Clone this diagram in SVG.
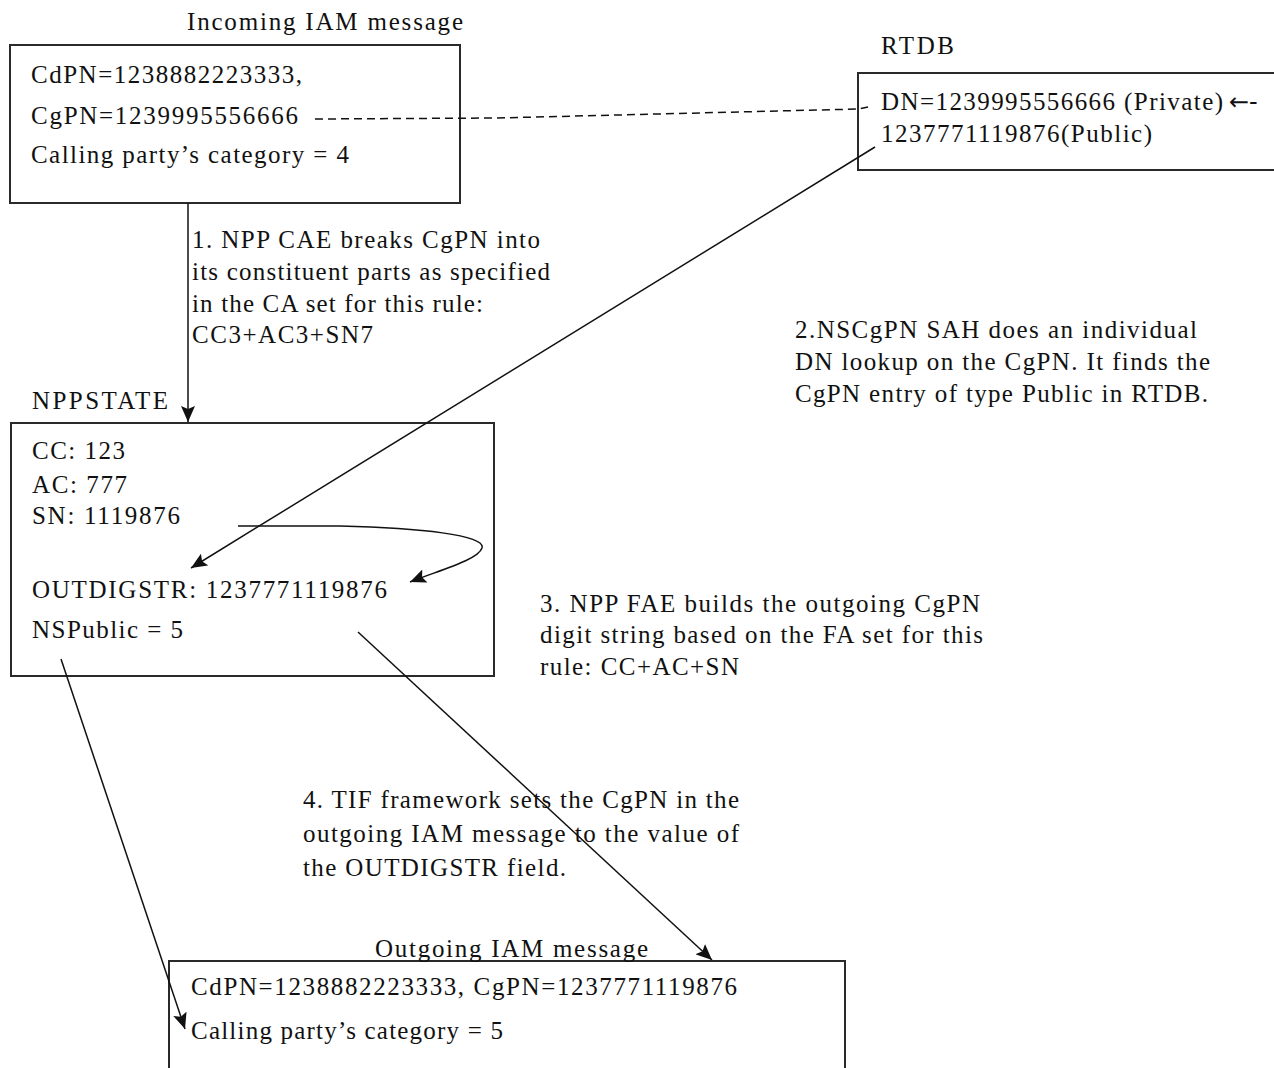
<svg xmlns="http://www.w3.org/2000/svg" width="1274" height="1068" viewBox="0 0 1274 1068">
<style>
text{font-family:"Liberation Serif","Times New Roman",serif;font-size:25px;fill:#111}
.box{fill:#fff;stroke:#2a2a2a;stroke-width:2}
.ln{fill:none;stroke:#111;stroke-width:1.5}
.dash{fill:none;stroke:#111;stroke-width:1.5;stroke-dasharray:8 5}
</style>
<defs>
<marker id="ah" markerUnits="userSpaceOnUse" markerWidth="17" markerHeight="14" refX="16" refY="7" orient="auto">
<path d="M0,0 L16,7 L0,14 L3,7 Z" fill="#111"/>
</marker>
</defs>
<rect width="1274" height="1068" fill="#fff"/>

<g id="incoming">
<rect class="box" x="10" y="45" width="450" height="158"/>
<text x="187" y="30" textLength="276" lengthAdjust="spacing">Incoming IAM message</text>
<text x="31" y="83" textLength="271" lengthAdjust="spacing">CdPN=1238882223333,</text>
<text x="31" y="124" textLength="267" lengthAdjust="spacing">CgPN=1239995556666</text>
<text x="31" y="163" textLength="318" lengthAdjust="spacing">Calling party’s category = 4</text>
</g>

<g id="rtdb">
<rect class="box" x="858" y="73" width="440" height="97"/>
<text x="881" y="54" textLength="73" lengthAdjust="spacing">RTDB</text>
<text x="881" y="110" textLength="342" lengthAdjust="spacing">DN=1239995556666 (Private)</text>
<text x="1229" y="110" style="font-family:'DejaVu Sans',sans-serif;font-size:24px">←-</text>
<text x="881" y="142" textLength="271" lengthAdjust="spacing">1237771119876(Public)</text>
</g>

<g id="step1">
<text x="192" y="248" textLength="348" lengthAdjust="spacing">1. NPP CAE breaks CgPN into</text>
<text x="192" y="280" textLength="358" lengthAdjust="spacing">its constituent parts as specified</text>
<text x="192" y="312" textLength="291" lengthAdjust="spacing">in the CA set for this rule:</text>
<text x="192" y="343" textLength="181" lengthAdjust="spacing">CC3+AC3+SN7</text>
</g>

<g id="step2">
<text x="795" y="338" textLength="402" lengthAdjust="spacing">2.NSCgPN SAH does an individual</text>
<text x="795" y="370" textLength="415" lengthAdjust="spacing">DN lookup on the CgPN. It finds the</text>
<text x="795" y="402" textLength="413" lengthAdjust="spacing">CgPN entry of type Public in RTDB.</text>
</g>

<g id="nppstate">
<rect class="box" x="11" y="423" width="483" height="253"/>
<text x="32" y="409" textLength="136" lengthAdjust="spacing">NPPSTATE</text>
<text x="32" y="459" textLength="93" lengthAdjust="spacing">CC: 123</text>
<text x="32" y="493" textLength="95" lengthAdjust="spacing">AC: 777</text>
<text x="32" y="524" textLength="148" lengthAdjust="spacing">SN: 1119876</text>
<text x="32" y="598" textLength="355" lengthAdjust="spacing">OUTDIGSTR: 1237771119876</text>
<text x="32" y="638" textLength="151" lengthAdjust="spacing">NSPublic = 5</text>
</g>

<g id="step3">
<text x="540" y="612" textLength="440" lengthAdjust="spacing">3. NPP FAE builds the outgoing CgPN</text>
<text x="540" y="643" textLength="443" lengthAdjust="spacing">digit string based on the FA set for this</text>
<text x="540" y="675" textLength="199" lengthAdjust="spacing">rule: CC+AC+SN</text>
</g>

<g id="step4">
<text x="303" y="808" textLength="436" lengthAdjust="spacing">4. TIF framework sets the CgPN in the</text>
<text x="303" y="842" textLength="436" lengthAdjust="spacing">outgoing IAM message to the value of</text>
<text x="303" y="876" textLength="263" lengthAdjust="spacing">the OUTDIGSTR field.</text>
</g>

<g id="outgoing">
<rect class="box" x="169" y="961" width="676" height="130"/>
<text x="375" y="957" textLength="273" lengthAdjust="spacing">Outgoing IAM message</text>
<text x="191" y="995" textLength="546" lengthAdjust="spacing">CdPN=1238882223333, CgPN=1237771119876</text>
<text x="191" y="1039" textLength="312" lengthAdjust="spacing">Calling party’s category = 5</text>
</g>

<g id="connectors">
<path class="dash" d="M315,119 L497,118 L858,109 L868,107"/>
<line class="ln" x1="188" y1="203" x2="188" y2="422" marker-end="url(#ah)"/>
<line class="ln" x1="875" y1="147" x2="191" y2="568" marker-end="url(#ah)"/>
<path class="ln" d="M238,526 L340,526 C420,528 486,535 482,548 C478,560 440,570 410,582" marker-end="url(#ah)"/>
<line class="ln" x1="358" y1="632" x2="712" y2="960" marker-end="url(#ah)"/>
<line class="ln" x1="61" y1="659" x2="185" y2="1029" marker-end="url(#ah)"/>
</g>
</svg>
